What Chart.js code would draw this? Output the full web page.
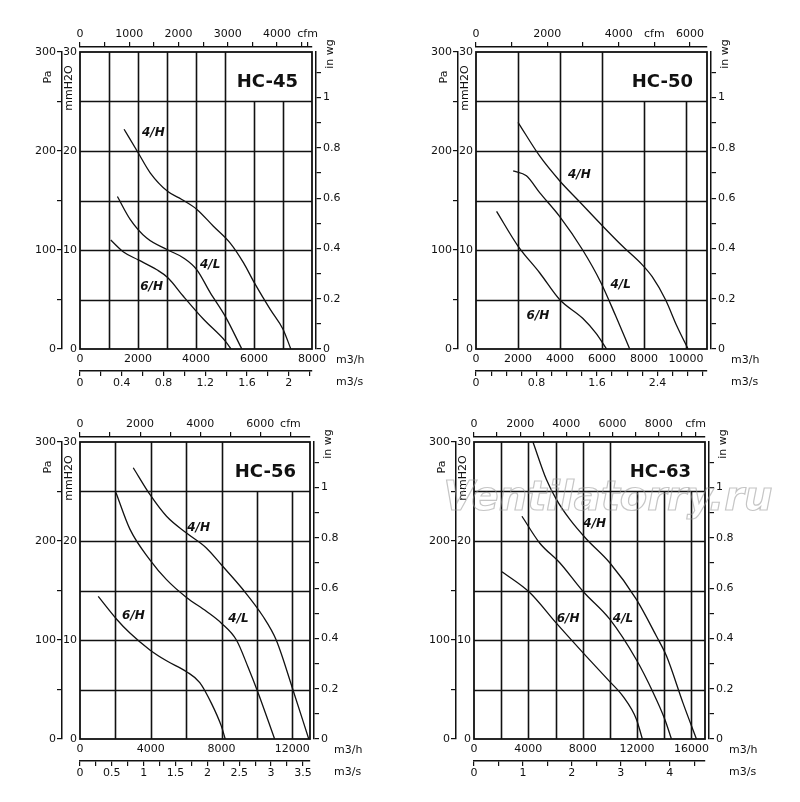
<!DOCTYPE html>
<html>
<head>
<meta charset="utf-8">
<script src="https://cdn.jsdelivr.net/npm/chart.js@4"></script>
<style>
  body { margin: 0; background: #fff; }
  #wrap { position: relative; width: 800px; height: 802px; }
  canvas { position: absolute; }
</style>
</head>
<body>
<div id="wrap">
  <canvas id="c0" width="400" height="400" style="left:0;top:0"></canvas>
  <canvas id="c1" width="400" height="400" style="left:400px;top:0"></canvas>
  <canvas id="c2" width="400" height="400" style="left:0;top:390px"></canvas>
  <canvas id="c3" width="400" height="400" style="left:400px;top:390px"></canvas>
</div>
<script>
document.addEventListener('DOMContentLoaded', () => {
    const range = (a, b, s) => { const r = []; for (let v = a; v <= b + 1e-9; v += s) r.push(+v.toFixed(3)); return r; };

    // Fan curves: [m3/h, mmH2O]
    const panels = [
        {
            name: 'HC-45', xMax: 8000, plotLeft: 80, plotRight: 312,
            xLabels: range(0, 8000, 2000),
            msTicks: range(0, 2.2, 0.2), msLabels: [0, 0.4, 0.8, 1.2, 1.6, 2],
            cfmTicks: range(0, 4500, 500).concat([4620]), cfmLabels: [0, 1000, 2000, 3000, 4000], cfmWord: 4620,
            vFull: [1000, 2000, 3000, 4000, 5000], vShort: [6000, 7000],
            curves: {
                '4/H': [[1520,22.2],[2010,19.8],[2420,17.8],[3030,15.9],[3510,15.1],[4030,14.1],[4600,12.4],[5180,10.7],[5640,8.7],[6010,6.7],[6560,4.0],[7000,2.0],[7270,0]],
                '4/L': [[1290,15.4],[1730,13.1],[2300,11.2],[3030,10.0],[3570,9.2],[4030,8.0],[4490,5.7],[5010,3.3],[5580,0]],
                '6/H': [[1060,11.0],[1500,9.8],[2010,9.0],[2650,8.0],[3030,7.2],[3570,5.3],[4260,3.0],[5010,0.8],[5210,0]]
            },
            labels: {'4/H': [2530, 21.8], '4/L': [4490, 8.5], '6/H': [2470, 6.3]}
        },
        {
            name: 'HC-50', xMax: 11000, plotLeft: 76, plotRight: 307,
            xLabels: range(0, 10000, 2000),
            msTicks: range(0, 3.0, 0.2), msLabels: [0, 0.8, 1.6, 2.4],
            cfmTicks: range(0, 6000, 1000), cfmLabels: [0, 2000, 4000, 6000], cfmWord: 5000,
            vFull: [2000, 4000, 6000], vShort: [8000, 10000],
            curves: {
                '4/H': [[2000,22.9],[3030,19.5],[3980,17.0],[4920,14.9],[5950,12.6],[6970,10.4],[7920,8.5],[8390,7.3],[9020,5.0],[9570,2.3],[10100,0]],
                '4/L': [[1770,18.0],[2400,17.5],[3030,15.8],[3980,13.4],[5080,10.0],[5950,6.7],[6660,3.3],[7320,0]],
                '6/H': [[980,13.9],[2000,10.4],[3030,7.7],[3980,5.0],[5080,3.1],[5710,1.6],[6220,0]]
            },
            labels: {'4/H': [4920, 17.6], '4/L': [6890, 6.5], '6/H': [2950, 3.3]}
        },
        {
            name: 'HC-56', xMax: 13000, plotLeft: 80, plotRight: 310,
            xLabels: range(0, 12000, 4000),
            msTicks: range(0, 3.5, 0.25), msLabels: range(0, 3.5, 0.5),
            cfmTicks: range(0, 7000, 1000), cfmLabels: [0, 2000, 4000, 6000], cfmWord: 7000,
            vFull: [2000, 4000, 6000, 8000], vShort: [10000, 12000],
            curves: {
                '4/H': [[3010,27.4],[3950,24.7],[4890,22.5],[6020,20.8],[7140,19.3],[7990,17.6],[9210,15.1],[10340,12.4],[11090,10.0],[12030,5.0],[12930,0]],
                '4/L': [[2030,24.9],[2820,21.2],[3950,18.1],[4890,16.1],[6020,14.3],[7140,12.9],[7990,11.7],[8840,10.0],[9490,7.3],[10060,4.7],[11000,0]],
                '6/H': [[1030,14.4],[2070,12.1],[2820,10.7],[3950,9.0],[4890,7.9],[6020,6.8],[6770,5.7],[7430,3.6],[7990,1.3],[8210,0]]
            },
            labels: {'4/H': [6700, 21.3], '4/L': [8960, 12.1], '6/H': [3020, 12.4]}
        },
        {
            name: 'HC-63', xMax: 17000, plotLeft: 74, plotRight: 305, watermark: true,
            xLabels: range(0, 16000, 4000),
            msTicks: range(0, 4.5, 0.5), msLabels: [0, 1, 2, 3, 4],
            cfmTicks: range(0, 9000, 1000).concat([9600]), cfmLabels: [0, 2000, 4000, 6000, 8000], cfmWord: 9600,
            vFull: [2000, 4000, 6000, 8000, 10000], vShort: [12000, 14000, 16000],
            curves: {
                '4/H': [[4340,30],[5330,26.2],[6060,24.2],[7040,22.2],[8270,20.2],[9990,17.8],[11950,14.1],[13420,10.4],[14160,8.4],[15390,3.6],[16370,0]],
                '4/L': [[3530,22.5],[4830,19.8],[6310,17.8],[8030,14.9],[9990,12.1],[11950,8.0],[13180,4.7],[14040,2.0],[14530,0]],
                '6/H': [[2060,16.9],[4100,14.8],[6060,11.7],[8030,8.7],[9990,5.8],[10970,4.3],[11950,2.0],[12390,0]]
            },
            labels: {'4/H': [8880, 21.7], '4/L': [10970, 12.1], '6/H': [6920, 12.1]}
        }
    ];

    const INK = '#111';
    const FONT = 'DejaVu Sans';
    const tickFont = { family: FONT, size: 11 };

    // explicit tick positions, labels only on some of them
    const setTicks = values => s => { s.ticks = values.map(v => ({ value: v })); };
    const labelOn = (labels, fmt) => v => labels.some(l => Math.abs(l - v) < 1e-6) ? fmt(v) : '';

    const panelPlugin = {
        id: 'panelPlugin',
        beforeDatasetsDraw(chart) {
            const p = chart.options.plugins.panelPlugin.panel;
            const { ctx, chartArea: a } = chart;
            const xs = chart.scales.x, ys = chart.scales.y;
            ctx.save();
            ctx.strokeStyle = INK;
            ctx.lineWidth = 1.6;
            ctx.beginPath();
            [5, 10, 15, 20, 25].forEach(v => {
                const y = Math.round(ys.getPixelForValue(v)) + 0.5;
                ctx.moveTo(a.left, y); ctx.lineTo(a.right, y);
            });
            p.vFull.forEach(v => {
                const x = Math.round(xs.getPixelForValue(v)) + 0.5;
                ctx.moveTo(x, a.top); ctx.lineTo(x, a.bottom);
            });
            p.vShort.forEach(v => {
                const x = Math.round(xs.getPixelForValue(v)) + 0.5;
                ctx.moveTo(x, ys.getPixelForValue(25)); ctx.lineTo(x, a.bottom);
            });
            ctx.stroke();
            ctx.lineWidth = 1.8;
            ctx.strokeRect(a.left, a.top, a.right - a.left, a.bottom - a.top);
            ctx.restore();
        },
        afterDraw(chart) {
            const p = chart.options.plugins.panelPlugin.panel;
            const { ctx, chartArea: a } = chart;
            const xs = chart.scales.x, ys = chart.scales.y;
            ctx.save();
            ctx.fillStyle = INK;

            // model name
            ctx.font = 'bold 18px ' + FONT;
            ctx.textAlign = 'right';
            ctx.textBaseline = 'middle';
            ctx.fillText(p.name, a.right - 14, a.top + 30);

            // curve names
            ctx.font = 'italic bold 12px ' + FONT;
            ctx.textAlign = 'center';
            Object.entries(p.labels).forEach(([k, [x, y]]) => {
                ctx.fillText(k, xs.getPixelForValue(x), ys.getPixelForValue(y));
            });

            // axis words
            ctx.font = '11px ' + FONT;
            ctx.textAlign = 'left';
            ctx.fillText('m3/h', a.right + 24, a.bottom + 11);
            ctx.fillText('m3/s', a.right + 24, a.bottom + 33);

            const vtext = (t, x, y, ang) => {
                ctx.save();
                ctx.translate(x, y);
                ctx.rotate(ang);
                ctx.textAlign = 'center';
                ctx.fillText(t, 0, 0);
                ctx.restore();
            };
            vtext('Pa', a.left - 32, a.top + 25, -Math.PI / 2);
            vtext('mmH2O', a.left - 11, a.top + 36, -Math.PI / 2);
            vtext('in wg', a.right + 18, a.top + 2, -Math.PI / 2);

            if (p.watermark) {
                ctx.font = 'italic bold 40px ' + FONT;
                ctx.textAlign = 'center';
                ctx.strokeStyle = 'rgba(150,150,150,0.55)';
                ctx.lineWidth = 1.2;
                ctx.strokeText('Ventilatorry.ru', 208, 110);
            }
            ctx.restore();
        }
    };

    panels.forEach((p, i) => {
        const ctx = document.getElementById('c' + i).getContext('2d');
        const datasets = Object.entries(p.curves).map(([k, pts]) => ({
            label: k,
            data: pts.map(([x, y]) => ({ x, y })),
            borderColor: INK,
            borderWidth: 1.3,
            pointRadius: 0,
            cubicInterpolationMode: 'monotone',
            fill: false
        }));
        const axisGrid = { display: true, drawOnChartArea: false, color: INK, tickLength: 5, lineWidth: 1.2 };
        const axisBorder = { display: true, color: INK, width: 1.5 };
        const noGrid = { display: false, drawTicks: false };
        const hidden = (size, pos) => ({
            type: 'linear', position: pos, display: true,
            ticks: { display: false }, grid: noGrid, border: { display: false },
            afterFit: s => { if (pos === 'top' || pos === 'bottom') s.height = size; else s.width = size; }
        });

        new Chart(ctx, {
            type: 'line',
            data: { datasets },
            plugins: [panelPlugin],
            options: {
                responsive: false,
                devicePixelRatio: 1,
                animation: false,
                layout: { padding: 0 },
                plugins: {
                    legend: { display: false },
                    tooltip: { enabled: false },
                    panelPlugin: { panel: p }
                },
                scales: {
                    x: {
                        type: 'linear', position: 'bottom', min: 0, max: p.xMax,
                        grid: noGrid, border: { display: false },
                        afterBuildTicks: setTicks(p.xLabels),
                        ticks: { color: INK, font: tickFont, maxRotation: 0, autoSkip: false, padding: 4,
                            callback: v => String(v) },
                        afterFit: s => { s.height = 22; }
                    },
                    xs: {
                        type: 'linear', position: 'bottom', min: 0, max: p.xMax / 3600,
                        grid: axisGrid, border: axisBorder,
                        afterBuildTicks: setTicks(p.msTicks),
                        ticks: { color: INK, font: tickFont, maxRotation: 0, autoSkip: false, padding: 1,
                            callback: labelOn(p.msLabels, v => String(+v.toFixed(2))) },
                        afterFit: s => { s.height = 29; }
                    },
                    y: {
                        type: 'linear', position: 'left', min: 0, max: 30,
                        grid: noGrid, border: { display: false },
                        afterBuildTicks: setTicks([0, 10, 20, 30]),
                        ticks: { color: INK, font: tickFont, padding: 3, callback: v => String(v) },
                        afterFit: s => { s.width = 18; }
                    },
                    yPa: {
                        type: 'linear', position: 'left', min: 0, max: 300,
                        grid: axisGrid, border: axisBorder,
                        afterBuildTicks: setTicks(range(0, 300, 50)),
                        ticks: { color: INK, font: tickFont, padding: 1,
                            callback: labelOn([0, 100, 200, 300], v => String(v)) },
                        afterFit: s => { s.width = p.plotLeft - 18; }
                    },
                    spR: hidden(4, 'right'),
                    inwg: {
                        type: 'linear', position: 'right', min: 0, max: 30 / 25.4,
                        grid: axisGrid, border: axisBorder,
                        afterBuildTicks: setTicks(range(0, 1.1, 0.1)),
                        ticks: { color: INK, font: tickFont, padding: 2,
                            callback: labelOn([0, 0.2, 0.4, 0.6, 0.8, 1], v => String(+v.toFixed(1))) },
                        afterFit: s => { s.width = 400 - p.plotRight - 4; }
                    },
                    spT: hidden(5, 'top'),
                    cfm: {
                        type: 'linear', position: 'top', min: 0, max: p.xMax / 1.699,
                        grid: axisGrid, border: axisBorder,
                        afterBuildTicks: setTicks(p.cfmTicks),
                        ticks: { color: INK, font: tickFont, maxRotation: 0, autoSkip: false, padding: 1,
                            callback: v => v === p.cfmWord ? 'cfm' : (p.cfmLabels.includes(v) ? String(v) : '') },
                        afterFit: s => { s.height = 47; }
                    }
                }
            }
        });
    });
});
</script>
</body>
</html>
